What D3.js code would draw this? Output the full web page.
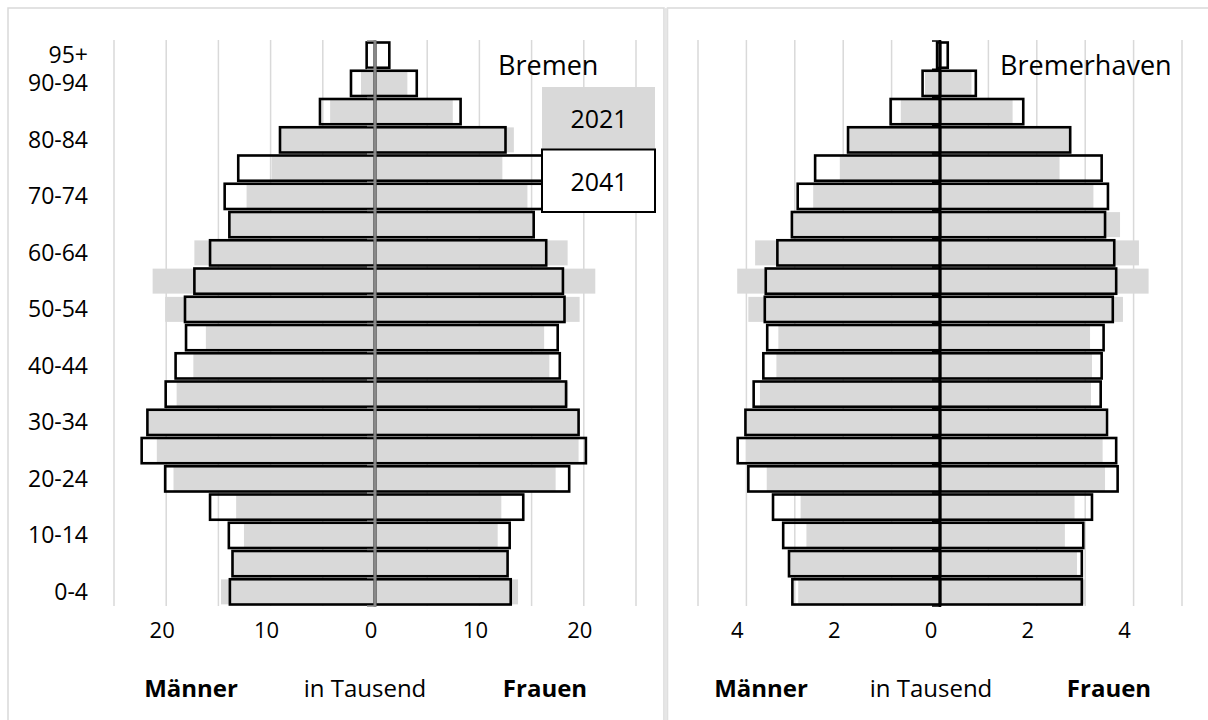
<!DOCTYPE html>
<html><head><meta charset="utf-8">
<script src="https://cdn.jsdelivr.net/npm/d3@7"></script>
<style>
html,body{margin:0;padding:0;background:#fff;}
svg{display:block;font-family:"Open Sans",sans-serif;}
</style></head>
<body>
<svg id="c" width="1208" height="720"></svg>
<script>
// ---- DATA (top row first) ----
const ageGroups = ["95+","90-94","85-89","80-84","75-79","70-74","65-69","60-64","55-59","50-54","45-49","40-44","35-39","30-34","25-29","20-24","15-19","10-14","5-9","0-4"];
const ageLabels = ["95+","90-94","80-84","70-74","60-64","50-54","40-44","30-34","20-24","10-14","0-4"];
const seriesNames = ["2021","2041"];

const bremenMen2021   = [0, 1.34, 4.3, 9.05, 9.9, 12.3, 13.9, 17.3, 21.3, 20.1, 16.2, 17.4, 19.0, 21.7, 20.9, 19.3, 13.3, 12.55, 13.6, 14.75];
const bremenMen2041   = [0.8, 2.3, 5.27, 9.1, 13.1, 14.4, 13.95, 15.8, 17.3, 18.2, 18.1, 19.1, 20.05, 21.8, 22.35, 20.1, 15.8, 14.0, 13.65, 13.9];
const bremenWomen2021 = [0, 3.1, 7.45, 13.3, 12.2, 14.6, 15.15, 18.45, 21.1, 19.6, 16.2, 16.7, 18.5, 19.6, 19.5, 17.3, 12.1, 11.75, 12.65, 13.7];
const bremenWomen2041 = [1.37, 4.0, 8.2, 12.5, 17.0, 16.6, 15.2, 16.4, 18.0, 18.15, 17.5, 17.7, 18.3, 19.5, 20.2, 18.6, 14.2, 12.9, 12.7, 13.0];

const bhvMen2021   = [0, 0.31, 0.81, 1.9, 2.07, 2.62, 3.05, 3.82, 4.19, 3.96, 3.34, 3.38, 3.72, 3.99, 4.01, 3.58, 2.88, 2.76, 3.1, 2.93];
const bhvMen2041   = [0.06, 0.36, 1.02, 1.9, 2.58, 2.94, 3.06, 3.36, 3.6, 3.62, 3.57, 3.65, 3.85, 4.02, 4.18, 3.96, 3.45, 3.24, 3.12, 3.05];
const bhvWomen2021 = [0, 0.65, 1.5, 2.68, 2.47, 3.17, 3.72, 4.11, 4.31, 3.78, 3.1, 3.14, 3.12, 3.41, 3.36, 3.41, 2.78, 2.58, 2.83, 3.0];
const bhvWomen2041 = [0.16, 0.74, 1.72, 2.69, 3.34, 3.47, 3.41, 3.6, 3.64, 3.57, 3.38, 3.34, 3.32, 3.45, 3.64, 3.67, 3.14, 2.96, 2.93, 2.93];

const bremenGrid = [-25,-20,-15,-10,-5,5,10,15,20,25];
const bremenTicks = [-20,-10,0,10,20];
const bhvGrid = [-5,-4,-3,-2,-1,1,2,3,4,5];
const bhvTicks = [-4,-2,0,2,4];
const bottomTexts = ["Männer","in Tausend","Frauen"];

// ---- DRAW ----
const svg = d3.select("#c");
const GRAY = "#d9d9d9";

// outer frames
svg.append("rect").attr("x",8).attr("y",8).attr("width",656).attr("height",740)
  .attr("fill","none").attr("stroke",GRAY).attr("stroke-width",1.5);
svg.append("rect").attr("x",667.5).attr("y",8).attr("width",560).attr("height",740)
  .attr("fill","none").attr("stroke",GRAY).attr("stroke-width",1.5);
svg.append("rect").attr("x",664.5).attr("y",8).attr("width",3).attr("height",712).attr("fill","#e6e6e6");

const y = d3.scaleBand().domain(ageGroups).range([41, 606]).padding(0);
const bw = y.bandwidth();

function panel(opt){
  const x = d3.scaleLinear().domain(opt.domain).range(opt.range);
  const g = svg.append("g");
  // gridlines
  g.selectAll("line.grid").data(opt.grid).join("line")
    .attr("x1",d=>x(d)).attr("x2",d=>x(d)).attr("y1",40).attr("y2",606)
    .attr("stroke",GRAY).attr("stroke-width",1.5);
  const rows = ageGroups.map((a,i)=>({a, m21:opt.m21[i], m41:opt.m41[i], w21:opt.w21[i], w41:opt.w41[i]}));
  // 2021 gray bars
  const gh = 25;
  g.selectAll("rect.m21").data(rows).join("rect")
    .attr("x",d=>x(-d.m21)).attr("width",d=>x(0)-x(-d.m21))
    .attr("y",d=>y(d.a)+(bw-gh)/2).attr("height",gh).attr("fill",GRAY);
  g.selectAll("rect.w21").data(rows).join("rect")
    .attr("x",x(0)).attr("width",d=>x(d.w21)-x(0))
    .attr("y",d=>y(d.a)+(bw-gh)/2).attr("height",gh).attr("fill",GRAY);
  // 2041 outline bars
  const sw = 2.6;
  g.selectAll("rect.m41").data(rows).join("rect")
    .attr("x",d=>x(-d.m41)).attr("width",d=>x(0)-x(-d.m41))
    .attr("y",d=>y(d.a)+sw/2+0.2).attr("height",bw-sw-0.4)
    .attr("fill","none").attr("stroke","#000").attr("stroke-width",sw);
  g.selectAll("rect.w41").data(rows).join("rect")
    .attr("x",x(0)).attr("width",d=>x(d.w41)-x(0))
    .attr("y",d=>y(d.a)+sw/2+0.2).attr("height",bw-sw-0.4)
    .attr("fill","none").attr("stroke","#000").attr("stroke-width",sw);
  // category axis at zero
  const ticksY = ageGroups.map(a=>y(a)).concat([606]);
  g.selectAll("line.ct").data(ticksY).join("line")
    .attr("x1",x(0)-8).attr("x2",x(0)).attr("y1",d=>d).attr("y2",d=>d)
    .attr("stroke",opt.axisColor).attr("stroke-width",1.5);
  g.append("line").attr("x1",x(0)).attr("x2",x(0)).attr("y1",40).attr("y2",607)
    .attr("stroke",opt.axisColor).attr("stroke-width",opt.axisWidth);
  // value tick labels
  g.selectAll("text.vt").data(opt.ticks).join("text")
    .attr("x",d=>x(d)+opt.labelDx).attr("y",630).attr("dy","0.35em")
    .attr("text-anchor","middle").attr("font-size",22).attr("fill","#000")
    .text(d=>Math.abs(d));
  // title
  g.append("text").attr("x",opt.titleX).attr("y",75).attr("font-size",27).attr("fill","#000").text(opt.title);
  // bottom texts
  g.selectAll("text.bt").data(bottomTexts).join("text")
    .attr("x",(d,i)=>opt.bottomX[i]).attr("y",697).attr("text-anchor","middle")
    .attr("font-size",24).attr("font-weight",(d,i)=>i===1?400:700).attr("fill","#000")
    .text(d=>d);
  return x;
}

panel({domain:[-25,25], range:[114,636], grid:bremenGrid, ticks:bremenTicks,
  m21:bremenMen2021, m41:bremenMen2041, w21:bremenWomen2021, w41:bremenWomen2041,
  axisColor:"#888888", axisWidth:3, labelDx:-4, title:"Bremen", titleX:498,
  bottomX:[191,365,545]});

panel({domain:[-5,5], range:[698,1182], grid:bhvGrid, ticks:bhvTicks,
  m21:bhvMen2021, m41:bhvMen2041, w21:bhvWomen2021, w41:bhvWomen2041,
  axisColor:"#000", axisWidth:2.6, labelDx:-9, title:"Bremerhaven", titleX:1000,
  bottomX:[761,931,1109]});

// category labels (left)
svg.append("g").selectAll("text").data(ageLabels).join("text")
  .attr("x",88).attr("y",d=>y(d)+bw/2).attr("dy","0.35em").attr("text-anchor","end")
  .attr("font-size",23).attr("fill","#000").text(d=>d);

// legend
const lg = svg.append("g");
const legY = d3.scaleBand().domain(seriesNames).range([87,212]).padding(0);
lg.selectAll("rect").data(seriesNames).join("rect")
  .attr("x",542).attr("y",d=>legY(d)).attr("width",113).attr("height",legY.bandwidth())
  .attr("fill",(d,i)=>i===0?GRAY:"#fff")
  .attr("stroke",(d,i)=>i===0?"none":"#000").attr("stroke-width",2);
lg.selectAll("text").data(seriesNames).join("text")
  .attr("x",599).attr("y",d=>legY(d)+legY.bandwidth()/2+1).attr("dy","0.35em")
  .attr("text-anchor","middle").attr("font-size",25).attr("fill","#000").text(d=>d);
</script>
</body></html>
